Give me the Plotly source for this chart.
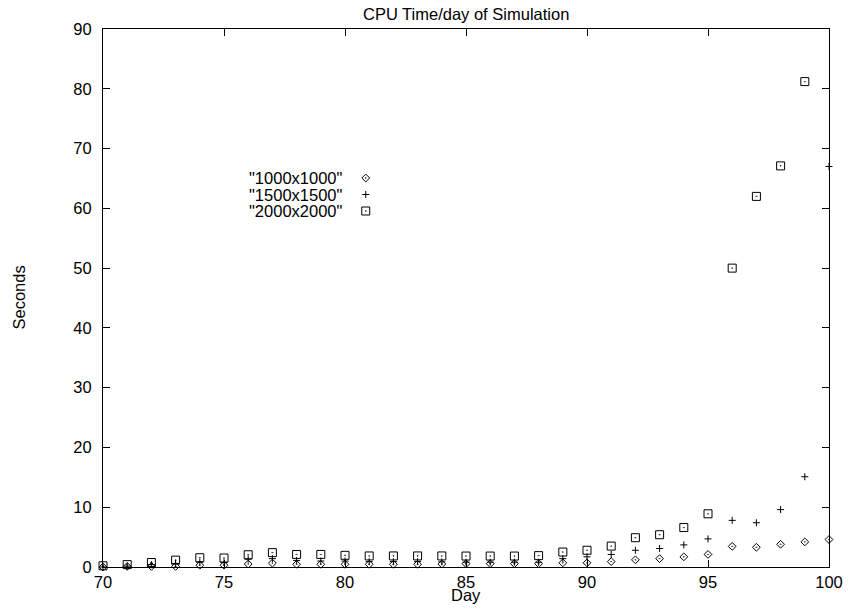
import plotly.graph_objects as go

days = list(range(70, 101))

s1000 = [0.0, 0.1, 0.1, 0.1, 0.3, 0.3, 0.5, 0.65, 0.45, 0.45,
         0.45, 0.45, 0.45, 0.45, 0.5, 0.55, 0.55, 0.55, 0.55, 0.7,
         0.7, 0.9, 1.2, 1.4, 1.7, 2.1, 3.45, 3.3, 3.8, 4.2, 4.6]

s1500 = [0.0, 0.15, 0.4, 0.6, 0.8, 0.75, 1.3, 1.4, 1.1, 1.0,
         1.0, 0.9, 0.9, 0.9, 0.85, 0.8, 0.8, 0.8, 0.8, 1.4,
         1.7, 2.1, 2.8, 3.1, 3.7, 4.7, 7.8, 7.4, 9.6, 15.1, 67.0]

s2000 = [0.2, 0.4, 0.75, 1.15, 1.55, 1.5, 2.05, 2.4, 2.1, 2.1,
         1.95, 1.85, 1.85, 1.85, 1.85, 1.83, 1.83, 1.83, 1.9, 2.5,
         2.8, 3.5, 4.9, 5.4, 6.6, 8.9, 50.0, 62.0, 67.1, 81.2, None]

series_names = ['"1000x1000"', '"1500x1500"', '"2000x2000"']
series_values = [s1000, s1500, s2000]
symbols = ["diamond-open-dot", "cross-thin-open", "square-open-dot"]
sizes = [6, 5, 8]

x_ticks = [70, 75, 80, 85, 90, 95, 100]
y_ticks = [0, 10, 20, 30, 40, 50, 60, 70, 80, 90]

title_text = "CPU Time/day of Simulation"
x_title = "Day"
y_title = "Seconds"

FONT = "Liberation Sans, Arial, sans-serif"
FS = 16.5

W, H = 855, 613
L, R, T, B = 103, 17, 29, 46
PW, PH = W - L - R, H - T - B

fig = go.Figure()
for name, vals, sym, sz in zip(series_names, series_values, symbols, sizes):
    fig.add_trace(go.Scatter(
        x=days, y=vals, mode="markers", name=name, showlegend=False,
        marker=dict(symbol=sym, size=sz, color="black",
                    line=dict(color="black", width=1)),
        cliponaxis=False,
    ))

# legend keys (text left, symbol right, as in gnuplot)
leg_text_right = 348 - L
leg_key_x = 369 - L
leg_y = [178 - T, 194.5 - T, 211 - T]
for name, sym, sz, ly in zip(series_names, symbols, sizes, leg_y):
    fig.add_trace(go.Scatter(
        x=[leg_key_x], y=[ly], xaxis="x2", yaxis="y2", mode="markers",
        showlegend=False, hoverinfo="skip",
        marker=dict(symbol=sym, size=sz, color="black",
                    line=dict(color="black", width=1)),
    ))
    fig.add_annotation(x=leg_text_right, y=ly, xref="x2", yref="y2",
                       text=name, showarrow=False, xanchor="right",
                       yanchor="middle", font=dict(family=FONT, size=FS, color="black"))

axis_common = dict(showgrid=False, zeroline=False, showline=True,
                   linecolor="black", linewidth=1, mirror="ticks",
                   ticks="inside", ticklen=7, tickwidth=1, tickcolor="black",
                   tickfont=dict(family=FONT, size=FS, color="black"))

fig.update_layout(
    width=W, height=H,
    margin=dict(l=L, r=R, t=T, b=B, pad=0),
    paper_bgcolor="white", plot_bgcolor="white",
    showlegend=False,
    xaxis=dict(range=[70, 100], tickmode="array", tickvals=x_ticks,
               ticktext=[str(v) for v in x_ticks], **axis_common),
    yaxis=dict(range=[0, 90], tickmode="array", tickvals=y_ticks,
               ticktext=[str(v) for v in y_ticks], ticklabelstandoff=7,
               **axis_common),
    xaxis2=dict(range=[0, PW], overlaying="x", visible=False, fixedrange=True),
    yaxis2=dict(range=[PH, 0], overlaying="y", visible=False, fixedrange=True),
)

fig.add_annotation(text=title_text, xref="paper", yref="paper", x=0.5, y=1,
                   yshift=15, xanchor="center", yanchor="middle", showarrow=False,
                   font=dict(family=FONT, size=FS, color="black"))
fig.add_annotation(text=x_title, xref="paper", yref="paper", x=0.5, y=0,
                   yshift=-28, xanchor="center", yanchor="middle", showarrow=False,
                   font=dict(family=FONT, size=FS, color="black"))
fig.add_annotation(text=y_title, xref="paper", yref="paper", x=0, y=0.5,
                   xshift=-(L - 18.5), textangle=-90, xanchor="center",
                   yanchor="middle", showarrow=False,
                   font=dict(family=FONT, size=FS, color="black"))

fig.write_html("out.html")
